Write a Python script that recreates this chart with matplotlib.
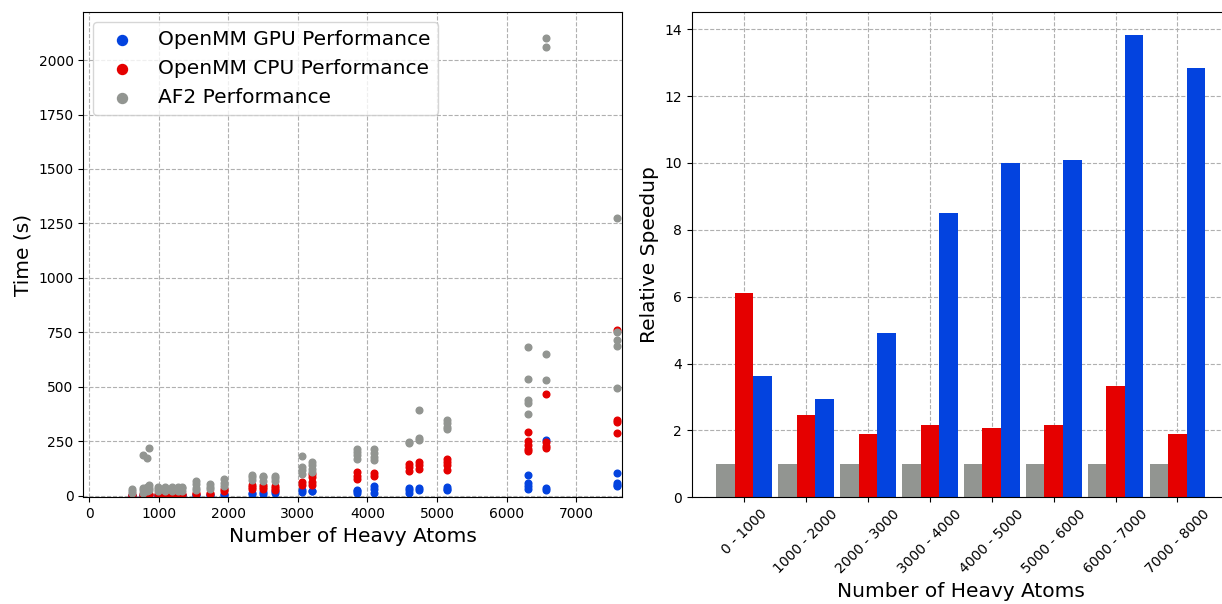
import numpy as np
import matplotlib
matplotlib.use('Agg')
from matplotlib import pyplot as plt

# heavy atom counts of the test systems (left panel)
atoms = [613, 780, 829, 862, 996, 1092, 1188, 1283, 1332, 1537, 1739, 1940,
         2347, 2500, 2672, 3056, 3209, 3855, 4095, 4602, 4746, 5139,
         6307, 6566, 7582]

# timings in seconds, one list per system
gpu_times = [[1, 2], [2, 1], [2], [3], [3, 1], [3, 1], [3, 1], [4, 2], [4, 2],
             [5, 2], [4, 2], [9, 4], [15, 8], [18, 10], [20, 12], [25, 18],
             [22, 20], [28, 20, 15], [45, 30, 15], [35, 25, 15], [35, 28],
             [40, 30, 25], [95, 60, 45, 30], [255, 35, 28], [103, 60, 50, 45]]

cpu_times = [[4, 2], [6, 3], [5, 3], [7, 4], [8, 4], [9, 5], [10, 5], [10, 6],
             [9, 5], [15, 10], [12, 6], [30, 20], [50, 40, 30], [50, 40, 30],
             [45, 35, 25], [65, 50], [100, 85, 65, 50], [110, 90, 75],
             [105, 90], [145, 130, 115], [155, 140, 125],
             [170, 155, 140, 120], [293, 250, 235, 215, 205],
             [467, 245, 230, 220], [761, 350, 340, 289]]

af2_times = [[30, 20, 12], [187, 35, 25, 15], [172, 40, 30, 20],
             [220, 50, 35, 25], [38, 30, 20], [40, 30, 22], [40, 32, 22],
             [42, 32, 24], [42, 34, 24], [70, 52, 36, 25], [55, 42, 30],
             [75, 60, 45], [95, 85, 72], [93, 85, 70], [93, 80, 66],
             [182, 130, 120, 100], [155, 140, 122, 110], [217, 200, 185, 168],
             [215, 195, 180, 165], [245, 240], [393, 265, 255],
             [350, 335, 315, 305], [684, 534, 440, 425, 375],
             [2100, 2060, 652, 530], [1275, 753, 715, 687, 493]]

# binned relative speedup (right panel)
bins = ['0 - 1000', '1000 - 2000', '2000 - 3000', '3000 - 4000',
        '4000 - 5000', '5000 - 6000', '6000 - 7000', '7000 - 8000']
af2_speedup = [1, 1, 1, 1, 1, 1, 1, 1]
cpu_speedup = [6.12, 2.45, 1.88, 2.17, 2.07, 2.17, 3.34, 1.89]
gpu_speedup = [3.64, 2.93, 4.91, 8.5, 10.0, 10.1, 13.83, 12.83]

BLUE = '#0343df'
RED = '#e50000'
GREY = '#929591'


def flatten(times):
    '''
    turn the per-system lists into flat x, y arrays for scatter
    '''
    x = [a for a, t in zip(atoms, times) for _ in t]
    y = [v for t in times for v in t]
    return x, y


fig = plt.figure(figsize=(12.22, 6.04), dpi=100)

ax1 = fig.add_axes([83.3 / 1222, 106.7 / 604, 538.4 / 1222, 485.6 / 604])
for times, c, lab in [(gpu_times, BLUE, 'OpenMM GPU Performance'),
                      (cpu_times, RED, 'OpenMM CPU Performance'),
                      (af2_times, GREY, 'AF2 Performance')]:
    x, y = flatten(times)
    ax1.scatter(x, y, s=23, color=c, label=lab)
ax1.set_xlim(-82, 7654)
ax1.set_ylim(-7, 2222)
ax1.set_axisbelow(True)
ax1.grid(linestyle='--')
ax1.set_xlabel('Number of Heavy Atoms', fontsize=14.5)
ax1.set_ylabel('Time (s)', fontsize=14.5)
ax1.legend(loc='upper left', fontsize=14.5, markerscale=1.5)

# right panel: grouped bars, width 0.3
ax2 = fig.add_axes([691.8 / 1222, 106.7 / 604, 538 / 1222, 485.6 / 604])
pos = np.arange(len(bins))
w = 0.3
ax2.bar(pos - w, af2_speedup, w, color=GREY)
ax2.bar(pos, cpu_speedup, w, color=RED)
ax2.bar(pos + w, gpu_speedup, w, color=BLUE)
ax2.set_xticks(pos)
ax2.set_xticklabels(bins, rotation=45)
ax2.set_axisbelow(True)
ax2.grid(linestyle='--')
ax2.set_xlabel('Number of Heavy Atoms', fontsize=14.5)
ax2.set_ylabel('Relative Speedup', fontsize=14.5)

fig.savefig('out.png', dpi=100)
